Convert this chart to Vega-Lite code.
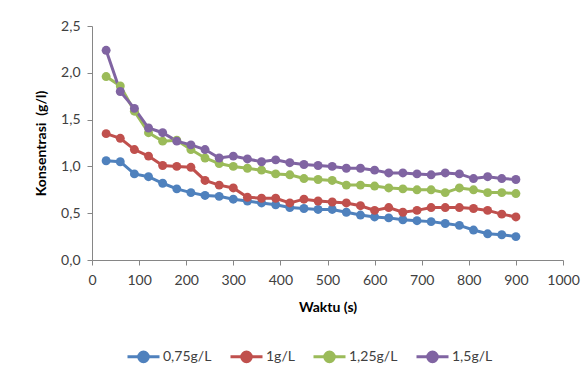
{
  "$schema": "https://vega.github.io/schema/vega-lite/v6.json",
  "autosize": {"type": "none"},
  "width": 471,
  "height": 234,
  "padding": {"left": 92, "top": 26, "right": 25, "bottom": 123},
  "background": "white",
  "config": {
    "view": {"stroke": null},
    "font": "Lato",
    "axis": {"labelFont": "Lato", "titleFont": "Lato", "labelColor": "#404040", "titleColor": "#000000", "domainColor": "#868686", "tickColor": "#868686", "grid": false, "labelFontSize": 14, "titleFontSize": 14, "titleFontWeight": "bold"}
  },
  "datasets": {
    "d": [
      {"t":30,"c":1.06,"s":"0,75g/L"},{"t":60,"c":1.05,"s":"0,75g/L"},{"t":90,"c":0.92,"s":"0,75g/L"},{"t":120,"c":0.89,"s":"0,75g/L"},{"t":150,"c":0.82,"s":"0,75g/L"},{"t":180,"c":0.76,"s":"0,75g/L"},{"t":210,"c":0.72,"s":"0,75g/L"},{"t":240,"c":0.69,"s":"0,75g/L"},{"t":270,"c":0.68,"s":"0,75g/L"},{"t":300,"c":0.65,"s":"0,75g/L"},{"t":330,"c":0.63,"s":"0,75g/L"},{"t":360,"c":0.61,"s":"0,75g/L"},{"t":390,"c":0.59,"s":"0,75g/L"},{"t":420,"c":0.56,"s":"0,75g/L"},{"t":450,"c":0.55,"s":"0,75g/L"},{"t":480,"c":0.54,"s":"0,75g/L"},{"t":510,"c":0.54,"s":"0,75g/L"},{"t":540,"c":0.51,"s":"0,75g/L"},{"t":570,"c":0.48,"s":"0,75g/L"},{"t":600,"c":0.46,"s":"0,75g/L"},{"t":630,"c":0.45,"s":"0,75g/L"},{"t":660,"c":0.43,"s":"0,75g/L"},{"t":690,"c":0.42,"s":"0,75g/L"},{"t":720,"c":0.41,"s":"0,75g/L"},{"t":750,"c":0.39,"s":"0,75g/L"},{"t":780,"c":0.37,"s":"0,75g/L"},{"t":810,"c":0.32,"s":"0,75g/L"},{"t":840,"c":0.28,"s":"0,75g/L"},{"t":870,"c":0.27,"s":"0,75g/L"},{"t":900,"c":0.25,"s":"0,75g/L"},
      {"t":30,"c":1.35,"s":"1g/L"},{"t":60,"c":1.30,"s":"1g/L"},{"t":90,"c":1.18,"s":"1g/L"},{"t":120,"c":1.11,"s":"1g/L"},{"t":150,"c":1.01,"s":"1g/L"},{"t":180,"c":1.00,"s":"1g/L"},{"t":210,"c":0.99,"s":"1g/L"},{"t":240,"c":0.85,"s":"1g/L"},{"t":270,"c":0.80,"s":"1g/L"},{"t":300,"c":0.77,"s":"1g/L"},{"t":330,"c":0.67,"s":"1g/L"},{"t":360,"c":0.66,"s":"1g/L"},{"t":390,"c":0.66,"s":"1g/L"},{"t":420,"c":0.61,"s":"1g/L"},{"t":450,"c":0.65,"s":"1g/L"},{"t":480,"c":0.63,"s":"1g/L"},{"t":510,"c":0.62,"s":"1g/L"},{"t":540,"c":0.61,"s":"1g/L"},{"t":570,"c":0.58,"s":"1g/L"},{"t":600,"c":0.53,"s":"1g/L"},{"t":630,"c":0.56,"s":"1g/L"},{"t":660,"c":0.51,"s":"1g/L"},{"t":690,"c":0.53,"s":"1g/L"},{"t":720,"c":0.56,"s":"1g/L"},{"t":750,"c":0.56,"s":"1g/L"},{"t":780,"c":0.56,"s":"1g/L"},{"t":810,"c":0.55,"s":"1g/L"},{"t":840,"c":0.53,"s":"1g/L"},{"t":870,"c":0.49,"s":"1g/L"},{"t":900,"c":0.46,"s":"1g/L"},
      {"t":30,"c":1.96,"s":"1,25g/L"},{"t":60,"c":1.86,"s":"1,25g/L"},{"t":90,"c":1.59,"s":"1,25g/L"},{"t":120,"c":1.36,"s":"1,25g/L"},{"t":150,"c":1.27,"s":"1,25g/L"},{"t":180,"c":1.28,"s":"1,25g/L"},{"t":210,"c":1.18,"s":"1,25g/L"},{"t":240,"c":1.09,"s":"1,25g/L"},{"t":270,"c":1.03,"s":"1,25g/L"},{"t":300,"c":1.00,"s":"1,25g/L"},{"t":330,"c":0.98,"s":"1,25g/L"},{"t":360,"c":0.96,"s":"1,25g/L"},{"t":390,"c":0.92,"s":"1,25g/L"},{"t":420,"c":0.91,"s":"1,25g/L"},{"t":450,"c":0.87,"s":"1,25g/L"},{"t":480,"c":0.86,"s":"1,25g/L"},{"t":510,"c":0.85,"s":"1,25g/L"},{"t":540,"c":0.80,"s":"1,25g/L"},{"t":570,"c":0.80,"s":"1,25g/L"},{"t":600,"c":0.79,"s":"1,25g/L"},{"t":630,"c":0.77,"s":"1,25g/L"},{"t":660,"c":0.76,"s":"1,25g/L"},{"t":690,"c":0.75,"s":"1,25g/L"},{"t":720,"c":0.75,"s":"1,25g/L"},{"t":750,"c":0.72,"s":"1,25g/L"},{"t":780,"c":0.77,"s":"1,25g/L"},{"t":810,"c":0.75,"s":"1,25g/L"},{"t":840,"c":0.72,"s":"1,25g/L"},{"t":870,"c":0.72,"s":"1,25g/L"},{"t":900,"c":0.71,"s":"1,25g/L"},
      {"t":30,"c":2.24,"s":"1,5g/L"},{"t":60,"c":1.80,"s":"1,5g/L"},{"t":90,"c":1.62,"s":"1,5g/L"},{"t":120,"c":1.41,"s":"1,5g/L"},{"t":150,"c":1.36,"s":"1,5g/L"},{"t":180,"c":1.27,"s":"1,5g/L"},{"t":210,"c":1.23,"s":"1,5g/L"},{"t":240,"c":1.18,"s":"1,5g/L"},{"t":270,"c":1.09,"s":"1,5g/L"},{"t":300,"c":1.11,"s":"1,5g/L"},{"t":330,"c":1.08,"s":"1,5g/L"},{"t":360,"c":1.05,"s":"1,5g/L"},{"t":390,"c":1.07,"s":"1,5g/L"},{"t":420,"c":1.04,"s":"1,5g/L"},{"t":450,"c":1.02,"s":"1,5g/L"},{"t":480,"c":1.01,"s":"1,5g/L"},{"t":510,"c":1.00,"s":"1,5g/L"},{"t":540,"c":0.98,"s":"1,5g/L"},{"t":570,"c":0.98,"s":"1,5g/L"},{"t":600,"c":0.96,"s":"1,5g/L"},{"t":630,"c":0.93,"s":"1,5g/L"},{"t":660,"c":0.93,"s":"1,5g/L"},{"t":690,"c":0.92,"s":"1,5g/L"},{"t":720,"c":0.91,"s":"1,5g/L"},{"t":750,"c":0.93,"s":"1,5g/L"},{"t":780,"c":0.92,"s":"1,5g/L"},{"t":810,"c":0.87,"s":"1,5g/L"},{"t":840,"c":0.89,"s":"1,5g/L"},{"t":870,"c":0.87,"s":"1,5g/L"},{"t":900,"c":0.86,"s":"1,5g/L"}
    ]
  },
  "data": {"name": "d"},
  "mark": {"type": "line", "strokeWidth": 3, "point": {"filled": true, "size": 80, "opacity": 1}},
  "encoding": {
    "x": {"field": "t", "type": "quantitative", "scale": {"domain": [0, 1000], "nice": false},
      "axis": {"title": "Waktu (s)", "values": [0,100,200,300,400,500,600,700,800,900,1000], "format": "d", "tickSize": 5, "labelPadding": 8, "titlePadding": 13, "labelFlush": false}},
    "y": {"field": "c", "type": "quantitative", "scale": {"domain": [0, 2.5], "nice": false},
      "axis": {"title": "Konsentrasi\u00a0 (g/l)", "values": [0,0.5,1,1.5,2,2.5], "tickSize": 5, "labelPadding": 7, "titlePadding": 12, "labelExpr": "replace(format(datum.value, '.1f'), '.', ',')"}},
    "color": {"field": "s", "type": "nominal",
      "scale": {"domain": ["0,75g/L", "1g/L", "1,25g/L", "1,5g/L"], "range": ["#4F81BD", "#C0504D", "#9BBB59", "#8064A2"]},
      "legend": {"title": null, "orient": "none", "direction": "horizontal", "legendX": 34, "legendY": 313,
        "symbolType": "M-1,0L1,0M-0.3,0A0.3,0.3,0,1,1,0.3,0A0.3,0.3,0,1,1,-0.3,0",
        "symbolSize": 1024, "symbolStrokeWidth": 3, "labelFontSize": 14, "labelFont": "Lato", "labelColor": "#404040", "labelOffset": 2, "columnPadding": 12}}
  }
}
